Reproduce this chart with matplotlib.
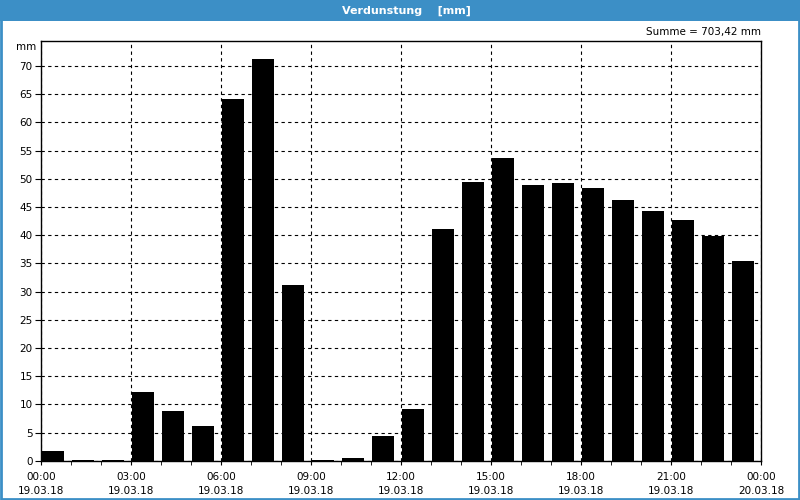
import matplotlib
matplotlib.use("Agg")
import matplotlib.pyplot as plt
from matplotlib.patches import Rectangle
from matplotlib.ticker import MultipleLocator
import numpy as np

# hourly evaporation values, 19.03.18 00:00 - 20.03.18 00:00
hours = np.arange(24)
werte = [1.8, 0.2, 0.2, 12.2, 8.9, 6.2, 64.2, 71.2, 31.2, 0.2, 0.5, 4.3,
         9.2, 41.1, 49.4, 53.7, 48.9, 49.2, 48.3, 46.3, 44.3, 42.7, 39.9, 35.4]
tick_pos = [0, 3, 6, 9, 12, 15, 18, 21, 24]
tick_labels = ["00:00\n19.03.18", "03:00\n19.03.18", "06:00\n19.03.18",
               "09:00\n19.03.18", "12:00\n19.03.18", "15:00\n19.03.18",
               "18:00\n19.03.18", "21:00\n19.03.18", "00:00\n20.03.18"]
titel = "Verdunstung    [mm]"
summe = "Summe = 703,42 mm"

blau = "#3c8fc6"
plt.rcParams['font.family'] = ['DejaVu Sans']

fig = plt.figure(figsize=(8, 5), dpi=100, facecolor="white")

# title bar + frame
fig.patches.append(Rectangle((0, 0.959), 1, 0.041, transform=fig.transFigure,
                             facecolor=blau, edgecolor="none"))
fig.patches.append(Rectangle((0.001, 0.002), 0.998, 0.996, transform=fig.transFigure,
                             facecolor="none", edgecolor=blau, lw=2))
fig.text(0.508, 0.979, titel, color="white", fontsize=8, fontweight="bold",
         ha="center", va="center")
fig.text(0.951, 0.936, summe, fontsize=7.5, ha="right", va="center")

ax = fig.add_axes([0.05125, 0.0786, 0.9, 0.84])
ax.bar(hours + 0.02, werte, width=0.74, align="edge", color="black", zorder=3)

ax.set_xlim(0, 24)
ax.set_ylim(0, 74.5)
ax.set_xticks(tick_pos)
ax.set_xticklabels(tick_labels, fontsize=7.5, linespacing=1.55)
ax.xaxis.set_minor_locator(MultipleLocator(1))
ax.set_yticks(np.arange(0, 75, 5))
ax.tick_params(axis="y", labelsize=7.5, length=4, direction="out", pad=2)
ax.tick_params(axis="x", which="both", length=3, direction="out", pad=5)
ax.grid(True, color="black", linestyle=(0, (3, 3)), lw=0.8, zorder=1)
for s in ax.spines.values():
    s.set_linewidth(1.0)
ax.text(-0.006, 0.986, "mm", transform=ax.transAxes, fontsize=7.5,
        ha="right", va="center")

fig.savefig("out.png", dpi=100, facecolor="white")
